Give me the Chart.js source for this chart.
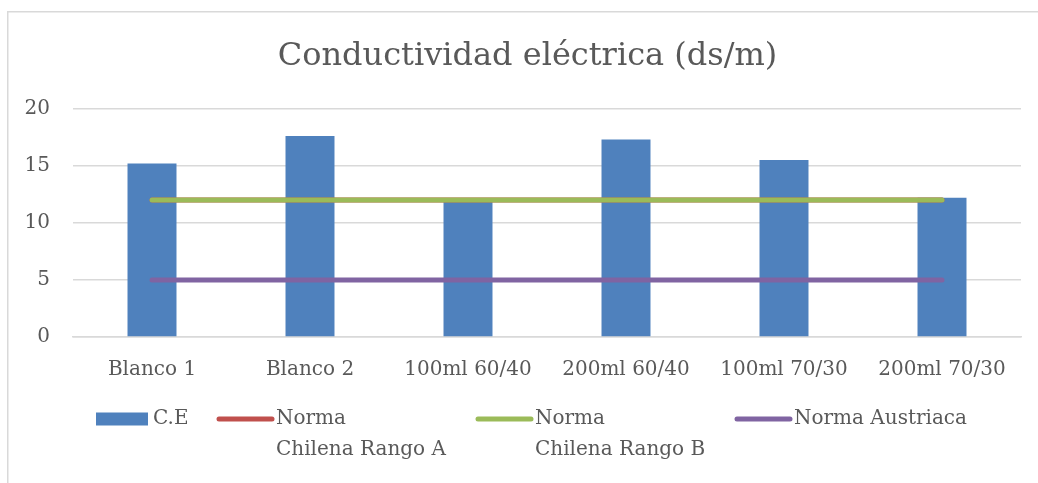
<!DOCTYPE html>
<html>
<head>
<meta charset="utf-8">
<script src="https://cdn.jsdelivr.net/npm/chart.js@4/dist/chart.umd.min.js"></script>
<style>
  html, body { margin: 0; padding: 0; background: #fff; }
  #wrap { width: 1038px; height: 483px; }
</style>
</head>
<body>
<div id="wrap"><canvas id="ce" width="1038" height="483"></canvas></div>
<script>
// Muestras y valores de conductividad (ds/m)
const muestras = ['Blanco 1', 'Blanco 2', '100ml 60/40', '200ml 60/40', '100ml 70/30', '200ml 70/30']
const conductividad = [15.2, 17.6, 11.9, 17.3, 15.5, 12.2]
const normaChilenaA = [12, 12, 12, 12, 12, 12]
const normaChilenaB = [12, 12, 12, 12, 12, 12]
const normaAustriaca = [5, 5, 5, 5, 5, 5]
const yTicks = [0, 5, 10, 15, 20]

const FONT = 'DejaVu Serif'
const GRIS = '#595959'

// Marco exterior y titulo centrado sobre el marco (no sobre el area de datos)
const marco = {
  id: 'marco',
  beforeDraw(chart, args, opts) {
    const ctx = chart.ctx
    ctx.save()
    ctx.strokeStyle = '#D9D9D9'
    ctx.lineWidth = 1.5
    ctx.strokeRect(7.75, 11.75, chart.width + 20, chart.height + 20)
    ctx.font = `32px "${FONT}"`
    ctx.fillStyle = GRIS
    ctx.textAlign = 'center'
    ctx.textBaseline = 'middle'
    ctx.fillText(opts.titulo, opts.cx, opts.cy)
    ctx.restore()
  }
}

// Leyenda en columnas, con texto en dos lineas como en Excel
const leyenda = {
  id: 'leyenda',
  afterDraw(chart, args, opts) {
    const ctx = chart.ctx
    ctx.save()
    ctx.font = `20px "${FONT}"`
    ctx.fillStyle = GRIS
    ctx.textBaseline = 'middle'
    chart.data.datasets.forEach((ds, i) => {
      const x = opts.columnas[i]
      const y = opts.y
      if (ds.type === 'bar') {
        ctx.fillStyle = ds.backgroundColor
        ctx.fillRect(x, y - 6.5, 52, 13)
      } else {
        ctx.strokeStyle = ds.borderColor
        ctx.lineWidth = 5
        ctx.lineCap = 'round'
        ctx.beginPath()
        ctx.moveTo(x + 2, y)
        ctx.lineTo(x + 55, y)
        ctx.stroke()
      }
      ctx.fillStyle = GRIS
      const tx = x + (ds.type === 'bar' ? 57 : 59)
      ds.label.split('\n').forEach((linea, k) => ctx.fillText(linea, tx, y + k * 31))
    })
    ctx.restore()
  }
}

const linea = (label, data, color, order) => ({
  type: 'line', label, data, order,
  borderColor: color, backgroundColor: color,
  borderWidth: 5, borderCapStyle: 'round',
  pointRadius: 0, pointHoverRadius: 0, fill: false
})

new Chart(document.getElementById('ce'), {
  data: {
    labels: muestras,
    datasets: [
      {
        type: 'bar', label: 'C.E', data: conductividad, order: 10,
        backgroundColor: '#4F81BD',
        barPercentage: 0.31, categoryPercentage: 1
      },
      linea('Norma\nChilena Rango A', normaChilenaA, '#C0504D', 3),
      linea('Norma\nChilena Rango B', normaChilenaB, '#9BBB59', 2),
      linea('Norma Austriaca', normaAustriaca, '#8064A2', 1)
    ]
  },
  options: {
    responsive: false,
    animation: false,
    layout: { padding: { left: 0, right: 17, top: 108.7, bottom: 96 } },
    plugins: {
      legend: { display: false },
      tooltip: { enabled: false },
      title: { display: false },
      marco: { titulo: 'Conductividad eléctrica (ds/m)', cx: 527.5, cy: 57 },
      leyenda: { columnas: [96, 217, 476, 735], y: 419 }
    },
    scales: {
      x: {
        grid: { display: false, drawTicks: false },
        border: { display: true, color: '#D9D9D9', width: 1.5 },
        ticks: { color: GRIS, font: { family: FONT, size: 20 }, padding: 21, maxRotation: 0 },
        afterFit(scale) { scale.height = 50 }
      },
      y: {
        min: 0, max: 20,
        afterBuildTicks(scale) { scale.ticks = yTicks.map(v => ({ value: v })) },
        grid: { color: '#D9D9D9', lineWidth: 1.5, drawTicks: false },
        border: { display: false },
        ticks: { color: GRIS, font: { family: FONT, size: 20 }, padding: 23 },
        afterFit(scale) { scale.width = 73 }
      }
    }
  },
  plugins: [marco, leyenda]
})
</script>
</body>
</html>
